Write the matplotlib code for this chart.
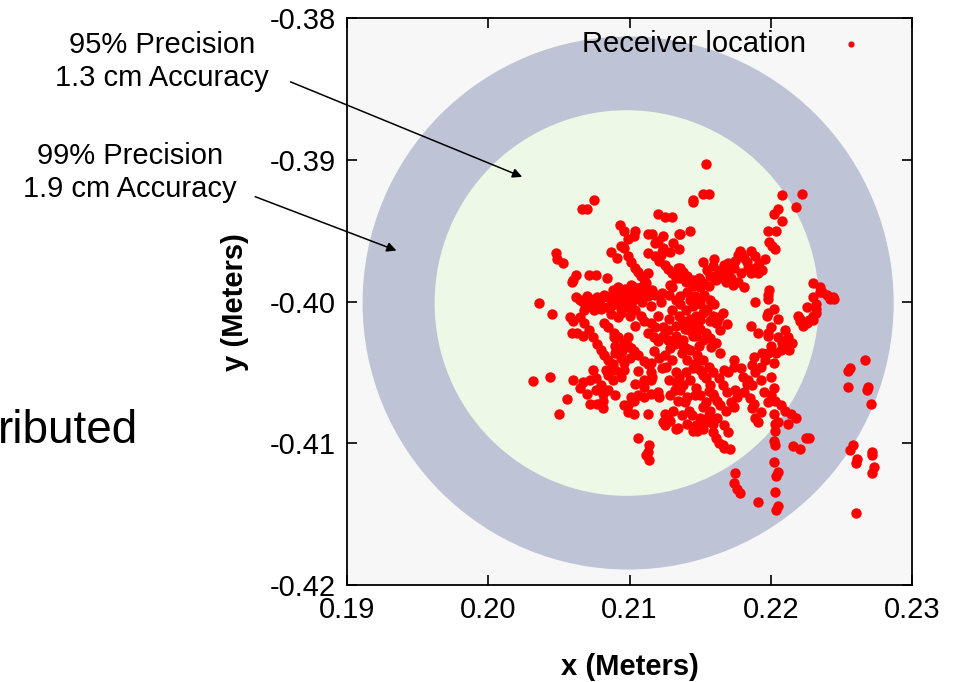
import numpy as np
import matplotlib
matplotlib.use("Agg")
import matplotlib.pyplot as plt
from matplotlib.patches import Circle

plt.rcParams['font.family'] = ['Liberation Sans', 'DejaVu Sans']

# receiver fixes (x, y) in meters, grouped by region
upper_pts = [
    (0.2075, -0.3928), (0.2066, -0.3935), (0.2070, -0.3935), (0.2120, -0.3938), (0.2125, -0.3940),
    (0.2130, -0.3940), (0.2093, -0.3946), (0.2096, -0.3950), (0.2104, -0.3950), (0.2113, -0.3952),
    (0.2116, -0.3952), (0.2124, -0.3954), (0.2120, -0.3957), (0.2118, -0.3959), (0.2131, -0.3959),
    (0.2135, -0.3952), (0.2099, -0.3956), (0.2103, -0.3954), (0.2096, -0.3962), (0.2087, -0.3965),
    (0.2091, -0.3969), (0.2048, -0.3966), (0.2049, -0.3970), (0.2053, -0.3973), (0.2113, -0.3966),
    (0.2122, -0.3967), (0.2123, -0.3965), (0.2129, -0.3965), (0.2135, -0.3963), (0.2099, -0.3968),
    (0.2101, -0.3972), (0.2104, -0.3976), (0.2106, -0.3979), (0.2108, -0.3982), (0.2110, -0.3984),
    (0.2112, -0.3987), (0.2113, -0.3980), (0.2071, -0.3981), (0.2076, -0.3981), (0.2062, -0.3981),
    (0.2059, -0.3986), (0.2060, -0.3985), (0.2084, -0.3983), (0.2134, -0.3976), (0.2130, -0.3980),
    (0.2133, -0.3983), (0.2136, -0.3983), (0.2092, -0.3990), (0.2101, -0.3988), (0.2108, -0.3990),
    (0.2116, -0.3992), (0.2129, -0.3988), (0.2094, -0.3961), (0.2124, -0.3962),
    (0.2118, -0.3968), (0.2121, -0.3971), (0.2125, -0.3974), (0.2127, -0.3977), (0.2138, -0.3979),
    (0.2141, -0.3982), (0.2147, -0.3987),
]

upper_right_pts = [
    (0.2154, -0.3903), (0.2145, -0.3928), (0.2145, -0.3930), (0.2152, -0.3924), (0.2156, -0.3924),
    (0.2208, -0.3925), (0.2222, -0.3924), (0.2218, -0.3933), (0.2205, -0.3935), (0.2202, -0.3938),
    (0.2208, -0.3943), (0.2143, -0.3950), (0.2198, -0.3950), (0.2204, -0.3950), (0.2199, -0.3958),
    (0.2201, -0.3961), (0.2203, -0.3963), (0.2136, -0.3952), (0.2178, -0.3964), (0.2177, -0.3967),
    (0.2181, -0.3969), (0.2186, -0.3964), (0.2189, -0.3968), (0.2159, -0.3975), (0.2167, -0.3974),
    (0.2170, -0.3973), (0.2174, -0.3976), (0.2179, -0.3980), (0.2184, -0.3976), (0.2189, -0.3976),
    (0.2194, -0.3978), (0.2191, -0.3980), (0.2162, -0.3981), (0.2157, -0.3982), (0.2149, -0.3983),
    (0.2145, -0.3985), (0.2166, -0.3983), (0.2172, -0.3983), (0.2177, -0.3986), (0.2181, -0.3990),
    (0.2173, -0.3988), (0.2156, -0.3989), (0.2152, -0.3987), (0.2136, -0.3976), (0.2230, -0.3987),
    (0.2235, -0.3990), (0.2199, -0.3992), (0.2150, -0.3985), (0.2140, -0.3986), (0.2145, -0.3989),
    (0.2150, -0.3990),
    (0.2160, -0.3970), (0.2165, -0.3978), (0.2170, -0.3979), (0.2175, -0.3971), (0.2183, -0.3972),
    (0.2186, -0.3980), (0.2168, -0.3986), (0.2161, -0.3985), (0.2155, -0.3978), (0.2152, -0.3972),
    (0.2179, -0.3966), (0.2192, -0.3973), (0.2196, -0.3970),
]

right_pts = [
    (0.2244, -0.3997), (0.2240, -0.3995), (0.2235, -0.3993), (0.2230, -0.3997), (0.2226, -0.4004),
    (0.2232, -0.4002), (0.2232, -0.4008), (0.2219, -0.4010), (0.2221, -0.4014), (0.2226, -0.4015),
    (0.2230, -0.4013), (0.2198, -0.3995), (0.2198, -0.3998), (0.2189, -0.4000), (0.2197, -0.4010),
    (0.2198, -0.4008), (0.2186, -0.4017), (0.2191, -0.4022), (0.2200, -0.4018), (0.2198, -0.4022),
    (0.2198, -0.4024), (0.2210, -0.4020), (0.2212, -0.4025), (0.2215, -0.4029), (0.2208, -0.4029),
    (0.2205, -0.4025), (0.2213, -0.4034), (0.2207, -0.4034), (0.2200, -0.4031), (0.2198, -0.4036),
    (0.2196, -0.4041), (0.2193, -0.4046), (0.2189, -0.4050), (0.2187, -0.4045), (0.2188, -0.4039),
    (0.2180, -0.4053), (0.2184, -0.4055), (0.2187, -0.4059), (0.2193, -0.4055), (0.2200, -0.4053),
    (0.2174, -0.4041), (0.2174, -0.4046), (0.2167, -0.4048), (0.2170, -0.4050), (0.2160, -0.4012),
    (0.2163, -0.4011), (0.2161, -0.4015), (0.2202, -0.4061), (0.2200, -0.4066), (0.2203, -0.4070),
    (0.2207, -0.4073), (0.2210, -0.4077), (0.2214, -0.4079), (0.2218, -0.4082), (0.2188, -0.4072),
    (0.2187, -0.4075), (0.2189, -0.4082), (0.2202, -0.4079), (0.2205, -0.4085), (0.2212, -0.4086),
    (0.2175, -0.4062), (0.2176, -0.4067), (0.2172, -0.4071), (0.2174, -0.4074),
    (0.2236, -0.3993), (0.2242, -0.3998), (0.2245, -0.3998), (0.2232, -0.4005), (0.2230, -0.4010),
    (0.2227, -0.4013), (0.2223, -0.4017), (0.2221, -0.4012),
    (0.2202, -0.4005), (0.2205, -0.4012), (0.2210, -0.4028), (0.2204, -0.4036), (0.2202, -0.4043),
    (0.2194, -0.4036), (0.2183, -0.4058), (0.2179, -0.4047), (0.2181, -0.4064), (0.2195, -0.4064),
    (0.2198, -0.4071), (0.2185, -0.4068), (0.2193, -0.4078),
]

core_pts = [
    (0.2143, -0.3999), (0.2140, -0.4006), (0.2147, -0.4010), (0.2150, -0.4002), (0.2142, -0.4017),
    (0.2147, -0.4024), (0.2138, -0.4027), (0.2138, -0.4031), (0.2143, -0.4034), (0.2148, -0.4038),
    (0.2152, -0.4041), (0.2156, -0.4046), (0.2159, -0.4050), (0.2163, -0.4054), (0.2166, -0.4059),
    (0.2169, -0.4064), (0.2140, -0.4050), (0.2143, -0.4055), (0.2147, -0.4061), (0.2150, -0.4066),
    (0.2154, -0.4071), (0.2157, -0.4077),
    (0.2088, -0.3992), (0.2099, -0.3999), (0.2090, -0.4001), (0.2094, -0.4005), (0.2101, -0.4002),
    (0.2104, -0.3998), (0.2110, -0.3993), (0.2118, -0.3995), (0.2123, -0.3994), (0.2122, -0.4000),
    (0.2128, -0.3995), (0.2130, -0.3990), (0.2108, -0.4010), (0.2104, -0.4017), (0.2110, -0.4014),
    (0.2115, -0.4015), (0.2118, -0.4018), (0.2124, -0.4018), (0.2099, -0.4025), (0.2113, -0.4022),
    (0.2124, -0.4024), (0.2133, -0.4024), (0.2133, -0.3999), (0.2136, -0.4002), (0.2143, -0.4012),
    (0.2148, -0.4016), (0.2150, -0.4019), (0.2154, -0.4022), (0.2157, -0.4026), (0.2161, -0.4029),
    (0.2135, -0.4010), (0.2138, -0.4014), (0.2142, -0.4020), (0.2145, -0.4024), (0.2130, -0.4006),
    (0.2128, -0.4012), (0.2150, -0.3999), (0.2155, -0.4005), (0.2159, -0.4010), (0.2162, -0.4014),
    (0.2164, -0.4020), (0.2133, -0.4017), (0.2149, -0.4031),
    (0.2089, -0.4025), (0.2101, -0.4033), (0.2115, -0.4043), (0.2115, -0.4055), (0.2103, -0.4070),
    (0.2121, -0.4067), (0.2096, -0.4073), (0.2125, -0.4079), (0.2129, -0.4084), (0.2124, -0.4085),
    (0.2142, -0.4077), (0.2150, -0.4082), (0.2134, -0.4070), (0.2141, -0.4067), (0.2138, -0.4059),
    (0.2127, -0.4027), (0.2129, -0.4033), (0.2125, -0.4038), (0.2130, -0.4041), (0.2133, -0.4050),
    (0.2135, -0.4054), (0.2136, -0.4062), (0.2129, -0.4066), (0.2136, -0.4027), (0.2140, -0.4033),
    (0.2147, -0.4043), (0.2150, -0.4048), (0.2154, -0.4054), (0.2157, -0.4059), (0.2159, -0.4065),
    (0.2162, -0.4070),
    (0.2091, -0.3993), (0.2097, -0.3991), (0.2103, -0.3990), (0.2098, -0.4004), (0.2104, -0.4006),
    (0.2092, -0.4011), (0.2100, -0.4010),
    (0.2136, -0.3996), (0.2141, -0.3993), (0.2146, -0.3996), (0.2153, -0.3995), (0.2157, -0.3999),
    (0.2145, -0.4003), (0.2152, -0.4008), (0.2157, -0.4014), (0.2150, -0.4013), (0.2139, -0.4019),
    (0.2145, -0.4020), (0.2152, -0.4027), (0.2158, -0.4032), (0.2164, -0.4036), (0.2132, -0.4030),
    (0.2160, -0.4002), (0.2166, -0.4008), (0.2169, -0.4016),
    (0.2137, -0.4036), (0.2141, -0.4041), (0.2145, -0.4047), (0.2152, -0.4052), (0.2156, -0.4063),
    (0.2160, -0.4067), (0.2164, -0.4073), (0.2168, -0.4077), (0.2146, -0.4066), (0.2152, -0.4074),
    (0.2139, -0.4071), (0.2144, -0.4080), (0.2132, -0.4062), (0.2128, -0.4055), (0.2126, -0.4046),
    (0.2121, -0.4040), (0.2117, -0.4035), (0.2120, -0.4028), (0.2127, -0.4020), (0.2120, -0.4010),
    (0.2115, -0.4003), (0.2117, -0.4025),
]

left_pts = [
    (0.2036, -0.4001), (0.2045, -0.4009), (0.2032, -0.4056), (0.2044, -0.4053), (0.2050, -0.4079),
    (0.2056, -0.4069), (0.2060, -0.4055), (0.2058, -0.4011), (0.2060, -0.4014), (0.2059, -0.4022),
    (0.2063, -0.4022), (0.2067, -0.4024), (0.2062, -0.3997), (0.2067, -0.4000), (0.2072, -0.3998),
    (0.2077, -0.3997), (0.2082, -0.3995), (0.2089, -0.3994), (0.2094, -0.3995), (0.2099, -0.3994),
    (0.2103, -0.3993), (0.2070, -0.4004), (0.2075, -0.4006), (0.2080, -0.4005), (0.2084, -0.4004),
    (0.2089, -0.4002), (0.2094, -0.4008), (0.2087, -0.4009), (0.2065, -0.4011), (0.2068, -0.4015),
    (0.2071, -0.4020), (0.2074, -0.4025), (0.2077, -0.4030), (0.2080, -0.4034), (0.2082, -0.4038),
    (0.2082, -0.4015), (0.2085, -0.4018), (0.2089, -0.4022), (0.2092, -0.4025), (0.2096, -0.4029),
    (0.2099, -0.4031), (0.2103, -0.4035), (0.2106, -0.4038), (0.2110, -0.4042), (0.2113, -0.4044),
    (0.2090, -0.4036), (0.2095, -0.4035), (0.2085, -0.4041), (0.2088, -0.4044), (0.2096, -0.4043),
    (0.2096, -0.4048), (0.2094, -0.4053), (0.2074, -0.4048), (0.2083, -0.4048), (0.2085, -0.4052),
    (0.2088, -0.4055), (0.2067, -0.4057), (0.2072, -0.4055), (0.2076, -0.4054), (0.2080, -0.4059),
    (0.2076, -0.4062), (0.2081, -0.4065), (0.2085, -0.4062), (0.2077, -0.4072), (0.2081, -0.4075),
    (0.2072, -0.4072), (0.2090, -0.4066), (0.2115, -0.4050), (0.2116, -0.4053), (0.2123, -0.4047),
    (0.2133, -0.4057), (0.2101, -0.4067), (0.2106, -0.4066), (0.2110, -0.4067), (0.2115, -0.4065),
    (0.2120, -0.4064), (0.2099, -0.4073), (0.2099, -0.4078), (0.2103, -0.4079), (0.2113, -0.4079),
    (0.2127, -0.4082), (0.2131, -0.4077), (0.2134, -0.4089),
    (0.2065, -0.3999), (0.2070, -0.3996), (0.2074, -0.4001), (0.2079, -0.3999), (0.2085, -0.3997),
    (0.2087, -0.4003), (0.2092, -0.3998), (0.2097, -0.4001), (0.2106, -0.3996), (0.2109, -0.4000),
    (0.2113, -0.3996), (0.2068, -0.4006), (0.2078, -0.4003),
    (0.2090, -0.4031), (0.2094, -0.4040), (0.2100, -0.4040), (0.2106, -0.4049), (0.2110, -0.4055),
    (0.2104, -0.4058), (0.2110, -0.4060), (0.2090, -0.4048), (0.2070, -0.4065), (0.2065, -0.4061),
    (0.2081, -0.4070),
]

lower_pts = [
    (0.2147, -0.4087), (0.2150, -0.4086), (0.2154, -0.4085), (0.2159, -0.4086), (0.2145, -0.4091),
    (0.2159, -0.4092), (0.2161, -0.4096), (0.2163, -0.4100), (0.2166, -0.4101), (0.2167, -0.4103),
    (0.2171, -0.4104), (0.2191, -0.4085), (0.2203, -0.4086), (0.2203, -0.4091), (0.2202, -0.4098),
    (0.2203, -0.4101), (0.2216, -0.4102), (0.2221, -0.4104), (0.2225, -0.4096), (0.2227, -0.4096),
    (0.2202, -0.4113), (0.2205, -0.4120), (0.2204, -0.4123), (0.2175, -0.4121), (0.2174, -0.4128),
    (0.2176, -0.4132), (0.2178, -0.4135), (0.2203, -0.4134), (0.2191, -0.4141), (0.2205, -0.4144),
    (0.2204, -0.4147),
    (0.2106, -0.4096), (0.2114, -0.4101), (0.2113, -0.4106), (0.2112, -0.4108), (0.2114, -0.4112),
    (0.2125, -0.4087), (0.2133, -0.4090), (0.2148, -0.4091),
    (0.2156, -0.4080), (0.2162, -0.4082), (0.2167, -0.4087), (0.2170, -0.4092), (0.2152, -0.4090),
    (0.2141, -0.4086), (0.2137, -0.4080),
]

outlier_pts = [
    (0.2267, -0.4041), (0.2256, -0.4047), (0.2255, -0.4049), (0.2255, -0.4060), (0.2269, -0.4060),
    (0.2268, -0.4062), (0.2271, -0.4072), (0.2258, -0.4101), (0.2256, -0.4105), (0.2272, -0.4106),
    (0.2272, -0.4108), (0.2261, -0.4111), (0.2260, -0.4114), (0.2273, -0.4117), (0.2272, -0.4121),
    (0.2260, -0.4149),
]

center = (0.2099, -0.4001)
r99 = 0.0188   # 1.9 cm ring
r95 = 0.0136   # 1.3 cm disc

x_ticks = [0.19, 0.20, 0.21, 0.22, 0.23]
y_ticks = [-0.42, -0.41, -0.40, -0.39, -0.38]

pts = np.array(upper_pts + upper_right_pts + right_pts + core_pts + left_pts + lower_pts + outlier_pts)

fig = plt.figure(figsize=(9.56, 6.82), dpi=100)
ax = fig.add_axes([0.363, 0.142, 0.591, 0.8315])
ax.set_facecolor('#f7f7f7')

ax.add_patch(Circle(center, r99, facecolor='#bec4d6', edgecolor='none', zorder=1))
ax.add_patch(Circle((center[0] - 0.0001, center[1]), r95, facecolor='#eef8e6', edgecolor='none', zorder=2))

ax.scatter(pts[:, 0], pts[:, 1], s=56, color='#ff0000', linewidths=0, zorder=3, label='Receiver location')

ax.set_xlim(0.19, 0.23)
ax.set_ylim(-0.42, -0.38)
ax.set_xticks(x_ticks)
ax.set_yticks(y_ticks)
ax.set_xticklabels([f'{v:.2f}' for v in x_ticks])
ax.set_yticklabels([f'{v:.2f}'.replace('\u2212', '-') for v in y_ticks])
ax.tick_params(direction='in', length=7, width=1.2, labelsize=21, top=True, right=True, pad=8)
for s in ax.spines.values():
    s.set_linewidth(1.3)

ax.set_xlabel('x (Meters)', fontsize=21, fontweight='bold', labelpad=21)
ax.set_ylabel('y (Meters)', fontsize=21, fontweight='bold', labelpad=15)

ax.legend(loc='upper right', markerfirst=False, frameon=False, fontsize=21, markerscale=0.6,
          handletextpad=0.96, handlelength=1.2, bbox_to_anchor=(0.954, 1.01), borderaxespad=0.2)

# annotations
arrow = dict(arrowstyle='-|>', color='black', lw=1.1, mutation_scale=14, shrinkA=0, shrinkB=0)
ax.annotate('', xy=(0.2024, -0.3912), xytext=(0.1860, -0.3845), arrowprops=arrow, annotation_clip=False)
ax.annotate('', xy=(0.1935, -0.3964), xytext=(0.1835, -0.3926), arrowprops=arrow, annotation_clip=False)
fig.text(162 / 956, 1 - 61.5 / 682, '95% Precision\n1.3 cm Accuracy', fontsize=21,
         ha='center', va='center', linespacing=1.2)
fig.text(130 / 956, 1 - 172.5 / 682, '99% Precision\n1.9 cm Accuracy', fontsize=21,
         ha='center', va='center', linespacing=1.2)

# leftover slide text cut at the edge
fig.text(138 / 956, 1 - 443 / 682, 'ributed', fontsize=33, ha='right', va='baseline')

fig.savefig('out.png', dpi=100)
